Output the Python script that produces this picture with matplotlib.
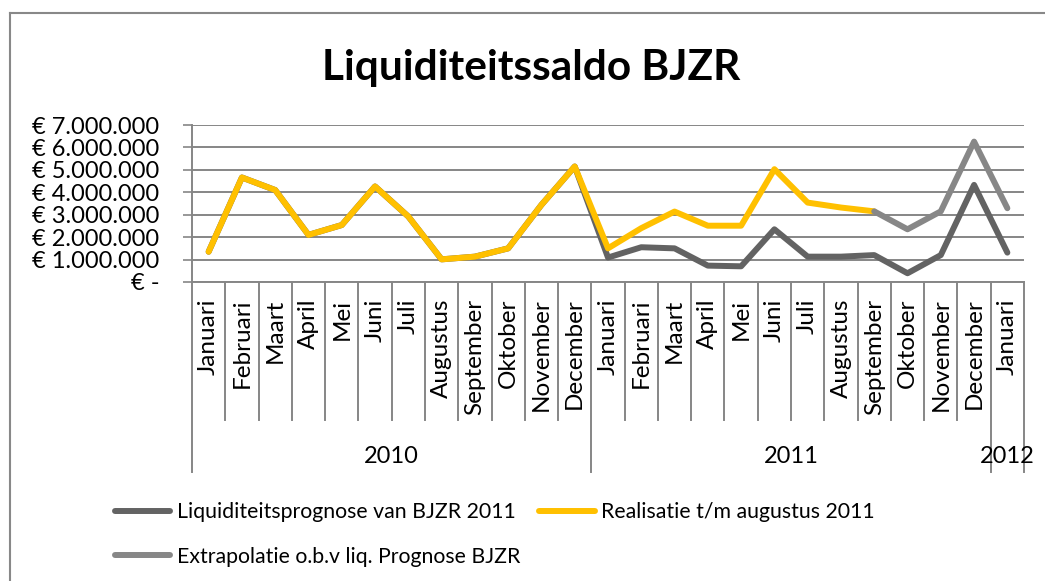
import numpy as np
import matplotlib
matplotlib.use('Agg')
import matplotlib.pyplot as plt
from matplotlib.lines import Line2D
import matplotlib.transforms as mtransforms

plt.rcParams['font.family'] = ['Lato', 'DejaVu Sans']

# data (in euro)
months = ['Januari', 'Februari', 'Maart', 'April', 'Mei', 'Juni', 'Juli',
          'Augustus', 'September', 'Oktober', 'November', 'December',
          'Januari', 'Februari', 'Maart', 'April', 'Mei', 'Juni', 'Juli',
          'Augustus', 'September', 'Oktober', 'November', 'December',
          'Januari']
years = ['2010', '2011', '2012']
year_len = [12, 12, 1]

nan = np.nan
prognose = [1.35, 4.66, 4.10, 2.10, 2.54, 4.26, 2.92, 1.01, 1.13, 1.50, 3.44, 5.15,
            1.09, 1.55, 1.50, 0.73, 0.70, 2.35, 1.13, 1.13, 1.20, 0.39, 1.20, 4.33,
            1.31]
realisatie = [1.35, 4.66, 4.10, 2.10, 2.54, 4.26, 2.92, 1.01, 1.13, 1.50, 3.44, 5.15,
              1.50, 2.40, 3.14, 2.51, 2.51, 5.03, 3.54, 3.32, 3.15, nan, nan, nan,
              nan]
extrapolatie = [nan] * 20 + [3.15, 2.35, 3.15, 6.26, 3.29]

prognose = np.array(prognose) * 1e6
realisatie = np.array(realisatie) * 1e6
extrapolatie = np.array(extrapolatie) * 1e6

c_dark = '#636363'
c_yellow = '#FFC000'
c_gray = '#878787'
c_axis = '#868686'

W, H = 1045, 581
fig = plt.figure(figsize=(W / 100, H / 100), dpi=100)
ax = fig.add_axes([192 / W, 1 - 282 / H, 832 / W, 157 / H])

x = np.arange(len(months))
lw = 4.3
l1, = ax.plot(x, prognose, color=c_dark, lw=lw, solid_joinstyle='round',
              solid_capstyle='round', label='Liquiditeitsprognose van BJZR 2011')
l2, = ax.plot(x, realisatie, color=c_yellow, lw=lw, solid_joinstyle='round',
              solid_capstyle='round', label='Realisatie t/m augustus 2011')
l3, = ax.plot(x, extrapolatie, color=c_gray, lw=lw, solid_joinstyle='round',
              solid_capstyle='round', label='Extrapolatie o.b.v liq. Prognose BJZR')

ax.set_xlim(-0.5, len(months) - 0.5)
ax.set_ylim(0, 7e6)
yt = np.arange(0, 8) * 1e6
ax.set_yticks(yt)
ylabels = ['€ -'] + ['€ {:,.0f}'.format(v).replace(',', '.') for v in yt[1:]]
ax.set_yticklabels(ylabels, fontsize=17)
ax.tick_params(axis='y', length=6.5, width=1.2, color=c_axis, pad=17)
ax.grid(axis='y', color=c_axis, lw=1.4)
ax.set_axisbelow(True)

ax.set_xticks(x)
ax.set_xticklabels(months, rotation=90, fontsize=17.5)
ax.tick_params(axis='x', length=0, pad=12)

for s in ['top', 'right']:
    ax.spines[s].set_visible(False)
for s in ['left', 'bottom']:
    ax.spines[s].set_color(c_axis)
    ax.spines[s].set_linewidth(1.4)

# category separators and year groups
trans = mtransforms.blended_transform_factory(ax.transData, ax.transAxes)
bounds = np.cumsum([0] + year_len)
for b in range(len(months) + 1):
    y_end = -190 / 157 if b in bounds else -138 / 157
    ax.add_line(Line2D([b - 0.5, b - 0.5], [0, y_end], transform=trans,
                       color=c_axis, lw=1.4, clip_on=False))
for i, yr in enumerate(years):
    xc = (bounds[i] + bounds[i + 1]) / 2 - 0.5
    ax.text(xc, -175 / 157, yr, transform=trans, ha='center', va='center',
            fontsize=17)

fig.text(531 / W, 1 - 68 / H, 'Liquiditeitssaldo BJZR', ha='center', va='center',
         fontsize=30.5, fontweight='bold')

# legend
fig.legend(handles=[l1, l3, l2], ncol=2, loc='upper left',
           bbox_to_anchor=(96 / W, 1 - 483 / H), frameon=False, fontsize=15.3,
           handlelength=2.6, handletextpad=0.3, columnspacing=0.9,
           labelspacing=1.15)

# outer chart frame
fig.add_artist(Line2D([10 / W, 10 / W], [0, 1 - 13 / H], color='#888888', lw=1.5))
fig.add_artist(Line2D([10 / W, 1], [1 - 13 / H, 1 - 13 / H], color='#888888', lw=1.5))

fig.savefig('out.png', dpi=100)
